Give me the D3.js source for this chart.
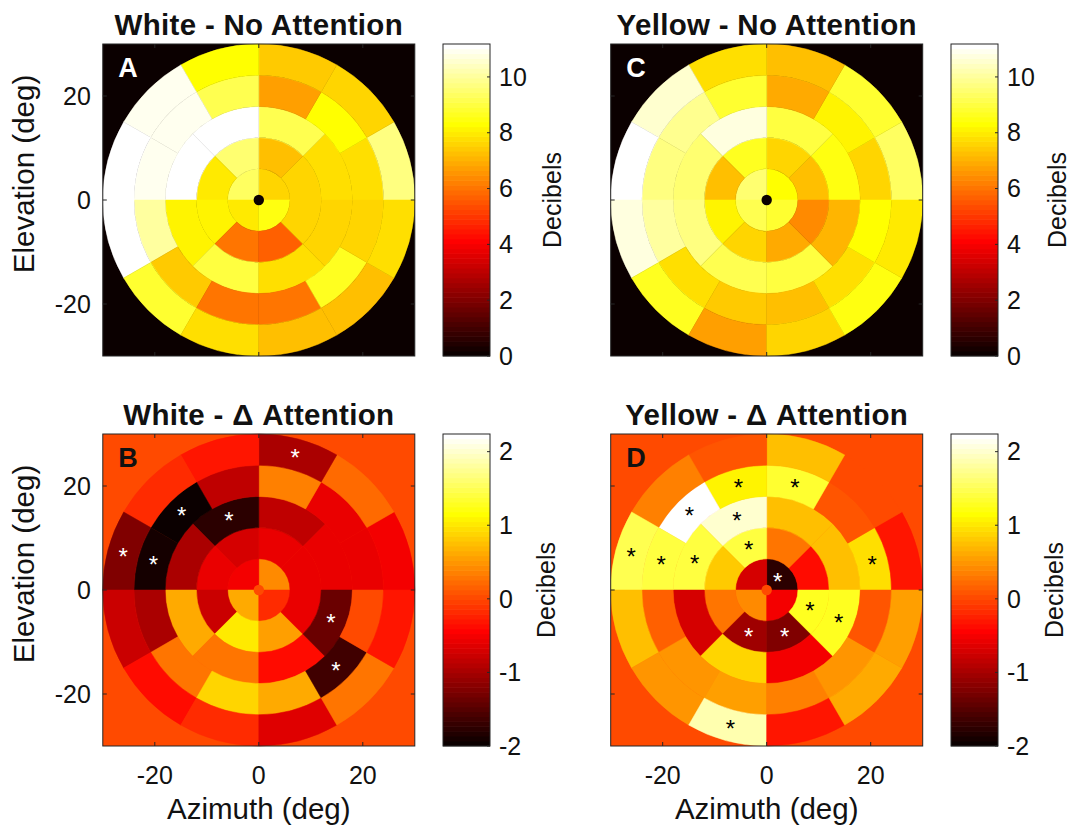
<!DOCTYPE html>
<html>
<head>
<meta charset="utf-8">
<script src="https://cdn.jsdelivr.net/npm/d3@7"></script>
<style>
  body { margin: 0; background: #fff; }
  svg { display: block; font-family: "Liberation Sans", Arial, Helvetica, sans-serif; }
</style>
</head>
<body>
<div id="chart"></div>
<script>
// ring layout (deg of eccentricity) and number of sectors per ring
const ringEdges = [0, 6, 12, 18, 24, 30];
const sectorCounts = [4, 8, 8, 12, 12];
const fixationRadius = 1;

// sector values, ring by ring, sectors counter-clockwise from 0 deg (right)
const whiteNoAttention = [
  [7.6, 9.4, 8.0, 8.4],
  [7.6, 7.3, 9.6, 7.9, 8.1, 6.0, 5.7, 7.6],
  [7.7, 9.2, 11.1, 11.1, 8.1, 9.0, 7.7, 7.6],
  [7.7, 8.3, 6.8, 9.2, 10.9, 10.9, 10.0, 7.5, 6.1, 6.0, 8.7, 7.6],
  [9.7, 7.6, 7.5, 8.3, 10.9, 11.1, 11.1, 8.8, 7.8, 7.2, 7.3, 7.8]
];
const yellowNoAttention = [
  [8.3, 9.5, 9.2, 8.8],
  [7.2, 7.6, 8.7, 7.2, 8.2, 7.6, 6.9, 6.4],
  [8.5, 9.0, 10.8, 9.5, 9.7, 9.2, 9.0, 7.1],
  [7.6, 8.1, 6.9, 8.85, 9.9, 9.7, 10.1, 7.7, 7.4, 7.3, 7.7, 8.3],
  [9.4, 8.85, 7.3, 7.8, 10.6, 11.1, 10.7, 8.7, 6.8, 7.6, 8.5, 7.9]
];
const whiteDeltaAttention = [
  [0.39, -0.5, 0.6, -0.17],
  [-0.6, -0.58, -0.7, -0.6, -0.75, 0.99, 0.55, -0.58],
  [-0.6, -0.84, -1.8, -0.95, 0.6, 0.3, -0.41, -1.34],
  [-0.55, -0.6, 0.33, -0.83, -2.0, -1.88, -1.0, 0.3, 0.85, 0.6, -1.65, 0.05],
  [-0.5, 0.19, -1.0, -0.34, -0.21, -1.24, -0.8, -0.35, -0.21, -0.65, 0.3, -0.3]
];
const yellowDeltaAttention = [
  [-1.74, -0.7, 0.39, -0.5],
  [-0.37, 0.3, 1.39, 0.8, 0.3, -1.04, -1.25, 1.26],
  [0.74, 0.72, 2.02, 1.39, -0.7, 0.87, -0.5, 1.26],
  [0.97, 0.1, 1.33, 1.08, 2.24, 1.39, 0.12, 0.46, 0.55, 0.37, 0.46, 0.1],
  [-0.3, 0.0, 0.75, 0.1, 0.33, 1.45, 0.77, 0.5, 1.89, -0.34, 0.6, 0.58]
];

// significant sectors: [ring index, sector index, star colour]
const whiteDeltaStars = [
  [4, 2, '#fff'], [3, 4, '#fff'], [2, 2, '#fff'], [4, 5, '#fff'],
  [3, 5, '#fff'], [2, 7, '#fff'], [3, 10, '#fff']
];
const yellowDeltaStars = [
  [3, 3, '#000'], [3, 2, '#000'], [3, 4, '#000'], [2, 2, '#000'],
  [4, 5, '#000'], [3, 5, '#000'], [2, 3, '#000'], [1, 2, '#000'],
  [3, 0, '#000'], [1, 7, '#000'], [2, 7, '#000'], [4, 8, '#000'],
  [0, 0, '#fff'], [1, 5, '#fff'], [1, 6, '#fff']
];

const axisTicks = [-20, 0, 20];
const noAttentionDomain = [0, 11.18];
const noAttentionTicks = [0, 2, 4, 6, 8, 10];
const deltaDomain = [-2, 2.24];
const deltaTicks = [-2, -1, 0, 1, 2];

const W = 1072, H = 825;
const SIZE = 312, CB_W = 47;
const INK = '#111';

// MATLAB hot(64)
function hotColor(v, domain) {
  const t = (v - domain[0]) / (domain[1] - domain[0]);
  const i = Math.max(1, Math.min(64, Math.floor(t * 64) + 1));
  const r = Math.min(1, i / 24);
  const g = Math.max(0, Math.min(1, (i - 24) / 24));
  const b = Math.max(0, Math.min(1, (i - 48) / 16));
  return d3.rgb(r * 255, g * 255, b * 255).formatHex();
}

const panels = [
  { letter: 'A', title: 'White - No Attention', values: whiteNoAttention, stars: [],
    domain: noAttentionDomain, cbTicks: noAttentionTicks, left: 102.8, top: 44,
    cbLeft: 443, labelGap: 71, letterColor: '#fff', showY: true, showX: false },
  { letter: 'C', title: 'Yellow - No Attention', values: yellowNoAttention, stars: [],
    domain: noAttentionDomain, cbTicks: noAttentionTicks, left: 610.7, top: 44,
    cbLeft: 951, labelGap: 68, letterColor: '#fff', showY: false, showX: false },
  { letter: 'B', title: 'White - \u0394 Attention', values: whiteDeltaAttention, stars: whiteDeltaStars,
    domain: deltaDomain, cbTicks: deltaTicks, left: 102.8, top: 434,
    cbLeft: 443, labelGap: 65, letterColor: '#111', showY: true, showX: true },
  { letter: 'D', title: 'Yellow - \u0394 Attention', values: yellowDeltaAttention, stars: yellowDeltaStars,
    domain: deltaDomain, cbTicks: deltaTicks, left: 610.7, top: 434,
    cbLeft: 951, labelGap: 65, letterColor: '#111', showY: false, showX: true }
];

const svg = d3.select('#chart').append('svg')
  .attr('width', W).attr('height', H)
  .attr('viewBox', `0 0 ${W} ${H}`);

const arc = d3.arc();

panels.forEach((p) => {
  const x = d3.scaleLinear().domain([-30, 30]).range([p.left, p.left + SIZE]);
  const y = d3.scaleLinear().domain([-30, 30]).range([p.top + SIZE, p.top]);
  const k = x(1) - x(0);
  const cx = x(0), cy = y(0);
  const g = svg.append('g');

  // background = value 0
  g.append('rect')
    .attr('x', x(-30)).attr('y', y(30))
    .attr('width', x(30) - x(-30)).attr('height', y(-30) - y(30))
    .attr('fill', hotColor(0, p.domain));

  const cells = [];
  p.values.forEach((ring, ri) => {
    const n = sectorCounts[ri];
    ring.forEach((v, si) => {
      const a0 = (si / n) * 2 * Math.PI, a1 = ((si + 1) / n) * 2 * Math.PI;
      cells.push({ r0: ringEdges[ri], r1: ringEdges[ri + 1], a0, a1, v });
    });
  });

  g.append('g').attr('transform', `translate(${cx},${cy})`)
    .selectAll('path').data(cells).join('path')
    .attr('d', (d) => arc({
      innerRadius: d.r0 * k, outerRadius: d.r1 * k,
      startAngle: Math.PI / 2 - d.a1, endAngle: Math.PI / 2 - d.a0
    }))
    .attr('fill', (d) => hotColor(d.v, p.domain))
    .attr('stroke', (d) => hotColor(d.v, p.domain))
    .attr('stroke-width', 0.5);

  // fixation point
  g.append('circle').attr('cx', cx).attr('cy', cy)
    .attr('r', fixationRadius * k).attr('fill', hotColor(0, p.domain));

  // significance stars
  const starPos = (d) => {
    const n = sectorCounts[d[0]];
    const a = (d[1] + 0.5) / n * 2 * Math.PI;
    const r = (ringEdges[d[0]] + ringEdges[d[0] + 1]) / 2;
    return [x(r * Math.cos(a)), y(r * Math.sin(a))];
  };
  g.selectAll('text.star').data(p.stars).join('text')
    .attr('class', 'star')
    .attr('x', (d) => starPos(d)[0])
    .attr('y', (d) => starPos(d)[1] + 11.5)
    .attr('text-anchor', 'middle')
    .attr('font-size', 24)
    .attr('fill', (d) => d[2])
    .text('*');

  // frame and inward ticks
  g.append('rect')
    .attr('x', x(-30)).attr('y', y(30))
    .attr('width', SIZE).attr('height', SIZE)
    .attr('fill', 'none').attr('stroke', '#262626').attr('stroke-width', 1);
  const tl = 4;
  axisTicks.forEach((t) => {
    [[x(t), y(-30), x(t), y(-30) - tl], [x(t), y(30), x(t), y(30) + tl],
     [x(-30), y(t), x(-30) + tl, y(t)], [x(30), y(t), x(30) - tl, y(t)]].forEach((l) => {
      g.append('line').attr('x1', l[0]).attr('y1', l[1]).attr('x2', l[2]).attr('y2', l[3])
        .attr('stroke', '#262626').attr('stroke-width', 1);
    });
  });

  if (p.showY) {
    g.selectAll('text.ytick').data(axisTicks).join('text')
      .attr('class', 'ytick')
      .attr('x', x(-30) - 12).attr('y', (d) => y(d))
      .attr('dy', '0.35em').attr('text-anchor', 'end')
      .attr('font-size', 25).attr('fill', INK)
      .text((d) => d);
    g.append('text')
      .attr('transform', `translate(33.5,${cy - 26}) rotate(-90)`)
      .attr('text-anchor', 'middle').attr('font-size', 29.5).attr('fill', INK)
      .text('Elevation (deg)');
  }
  if (p.showX) {
    g.selectAll('text.xtick').data(axisTicks).join('text')
      .attr('class', 'xtick')
      .attr('x', (d) => x(d)).attr('y', y(-30) + 38)
      .attr('text-anchor', 'middle')
      .attr('font-size', 25).attr('fill', INK)
      .text((d) => d);
    g.append('text')
      .attr('x', cx).attr('y', 819)
      .attr('text-anchor', 'middle').attr('font-size', 29.5).attr('fill', INK)
      .text('Azimuth (deg)');
  }

  // title and panel letter
  g.append('text')
    .attr('x', cx).attr('y', p.top - 9)
    .attr('text-anchor', 'middle')
    .attr('font-size', 29.5).attr('font-weight', 'bold')
    .attr('letter-spacing', 0.3).attr('fill', INK)
    .text(p.title);
  g.append('text')
    .attr('x', p.left + 15.5).attr('y', p.top + 33)
    .attr('font-size', 27).attr('font-weight', 'bold')
    .attr('fill', p.letterColor)
    .text(p.letter);

  // colorbar
  const cbY = d3.scaleLinear().domain(p.domain).range([p.top + SIZE, p.top]);
  const steps = d3.range(64).map((i) => p.domain[0] + (i / 64) * (p.domain[1] - p.domain[0]));
  const step = (p.domain[1] - p.domain[0]) / 64;
  const cb = svg.append('g');
  cb.selectAll('rect.band').data(steps).join('rect')
    .attr('class', 'band')
    .attr('x', p.cbLeft).attr('width', CB_W)
    .attr('y', (d) => cbY(d + step) - 0.3)
    .attr('height', (d) => cbY(d) - cbY(d + step) + 0.6)
    .attr('fill', (d) => hotColor(d + step / 2, p.domain));
  cb.append('rect')
    .attr('x', p.cbLeft).attr('y', p.top).attr('width', CB_W).attr('height', SIZE)
    .attr('fill', 'none').attr('stroke', '#262626').attr('stroke-width', 1);
  cb.selectAll('line.cbtick').data(p.cbTicks).join('line')
    .attr('class', 'cbtick')
    .attr('x1', p.cbLeft + CB_W).attr('x2', p.cbLeft + CB_W - 3)
    .attr('y1', (d) => cbY(d)).attr('y2', (d) => cbY(d))
    .attr('stroke', '#262626').attr('stroke-width', 1);
  cb.selectAll('text.cblabel').data(p.cbTicks).join('text')
    .attr('class', 'cblabel')
    .attr('x', p.cbLeft + CB_W + 9).attr('y', (d) => cbY(d))
    .attr('dy', '0.35em')
    .attr('font-size', 25).attr('fill', INK)
    .text((d) => d);
  cb.append('text')
    .attr('transform', `translate(${p.cbLeft + CB_W + p.labelGap},${p.top + SIZE / 2}) rotate(-90)`)
    .attr('text-anchor', 'middle')
    .attr('font-size', 25).attr('fill', INK)
    .text('Decibels');
});
</script>
</body>
</html>
